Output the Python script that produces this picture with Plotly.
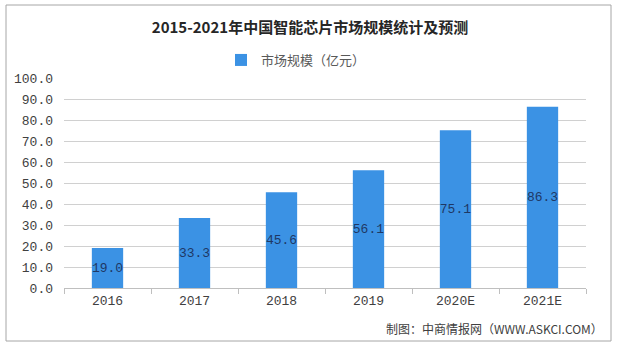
import plotly.graph_objects as go

categories = ["2016", "2017", "2018", "2019", "2020E", "2021E"]
values = [19.0, 33.3, 45.6, 56.1, 75.1, 86.3]
series_name = "市场规模（亿元）"
title_text = "2015-2021年中国智能芯片市场规模统计及预测"
source_text = "制图：中商情报网（WWW.ASKCI.COM）"

W, H = 632, 351
L, R, T, B = 64, 586, 78, 288  # plot area pixels
pw, ph = R - L, B - T

def px(x):
    return (x - L) / pw

def py(y):
    return (B - y) / ph

mono = "Liberation Mono, DejaVu Sans Mono, monospace"
cjk = "Noto Sans CJK SC, sans-serif"

fig = go.Figure()
fig.add_trace(go.Bar(
    x=categories, y=values, name=series_name,
    marker=dict(color="#3b92e4", line=dict(width=0)),
    text=[f"{v:.1f}" for v in values],
    textposition="inside", insidetextanchor="middle",
    textfont=dict(family=mono, size=13, color="#1f3864"),
    textangle=0, constraintext="none",
    showlegend=True,
))

fig.update_layout(
    width=W, height=H,
    margin=dict(l=L, r=W - R, t=T, b=H - B),
    paper_bgcolor="white", plot_bgcolor="white",
    bargap=0.64,
    uniformtext=dict(minsize=13, mode="show"),
    title=dict(text=f"<b>{title_text}</b>", x=310 / W, xanchor="center",
               xref="container", yref="container", y=1 - 28 / H, yanchor="middle",
               font=dict(family=cjk, size=15, color="#262626")),
    legend=dict(orientation="h", x=px(296), xanchor="center", y=py(60), yanchor="middle",
                font=dict(family=cjk, size=13, color="#595959"),
                bgcolor="rgba(0,0,0,0)", itemwidth=30),
    xaxis=dict(showgrid=False, showline=True, linecolor="#bfbfbf", linewidth=1,
               ticks="outside", tickson="boundaries", ticklen=5, tickcolor="#bfbfbf",
               tickfont=dict(family=mono, size=13, color="#404040")),
    yaxis=dict(range=[0, 100], dtick=10, tickformat=".1f", showgrid=True,
               gridcolor="#d0d0d0", gridwidth=1, zeroline=False, showline=False,
               ticks="", ticklabelstandoff=10,
               tickfont=dict(family=mono, size=13, color="#404040")),
)

fig.add_shape(type="rect", xref="paper", yref="paper",
              x0=px(6), x1=px(611), y0=py(341), y1=py(5),
              line=dict(color="#a6a6a6", width=1), fillcolor="rgba(0,0,0,0)", layer="below")

fig.add_annotation(text=source_text, xref="paper", yref="paper",
                   x=px(605), y=py(328), xanchor="right", yanchor="middle",
                   showarrow=False, font=dict(family=cjk, size=12, color="#404040"))

fig.write_html("out.html")
